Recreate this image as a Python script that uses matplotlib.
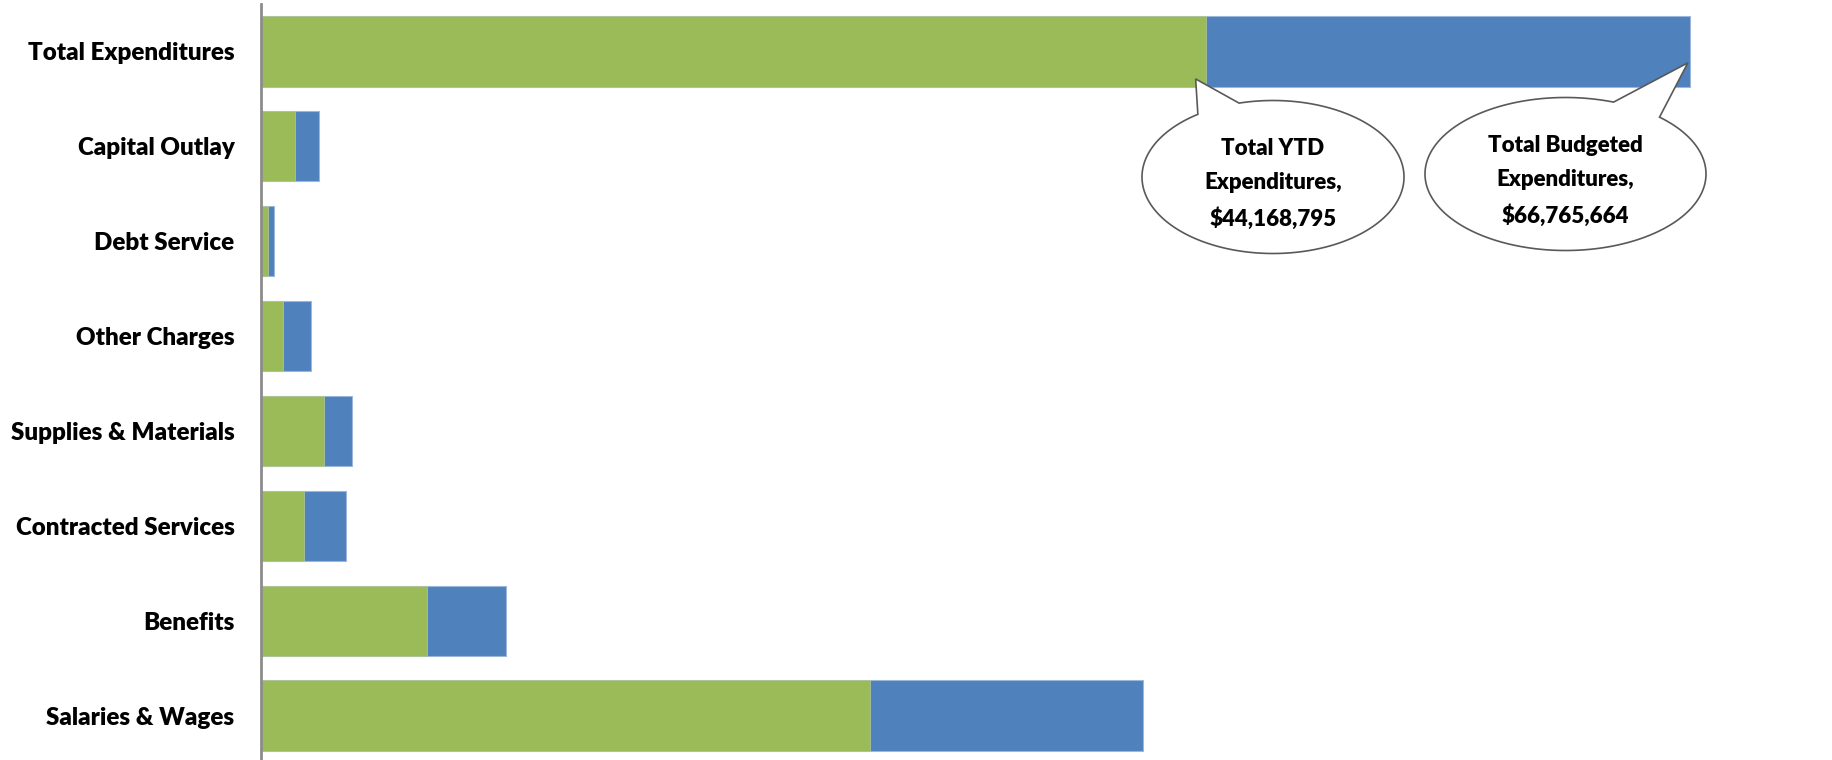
import numpy as np
import matplotlib
matplotlib.use('Agg')
import matplotlib.pyplot as plt
from matplotlib.patches import Polygon

plt.rcParams['font.family'] = ['Lato', 'DejaVu Sans']

# categories bottom to top
categories = ['Salaries & Wages', 'Benefits', 'Contracted Services',
              'Supplies & Materials', 'Other Charges', 'Debt Service',
              'Capital Outlay', 'Total Expenditures']
# dollars, millions
budgeted = [41.21, 11.45, 3.98, 4.27, 2.35, 0.61, 2.71, 66.765664]
ytd = [28.44, 7.76, 2.00, 2.93, 1.01, 0.33, 1.59, 44.168795]

ytd_label = 'Total YTD\nExpenditures,\n$44,168,795'
budget_label = 'Total Budgeted\nExpenditures,\n$66,765,664'

W, H = 1833, 760
fig = plt.figure(figsize=(W / 100.0, H / 100.0), dpi=100)
ax = fig.add_axes([261.0 / W, -3.0 / H, (W - 261.0) / W, 759.0 / H])

y = np.arange(len(categories))
ax.barh(y, budgeted, height=0.74, color='#4F81BD', edgecolor='#9DB7DA', linewidth=0.8)
ax.barh(y, ytd, height=0.74, color='#9BBB59', edgecolor='#B5C99A', linewidth=0.5)

ax.set_xlim(0, 1572 * 66.765664 / 1429.0)
ax.set_ylim(-0.5, len(categories) - 0.5)
ax.set_yticks(y)
ax.set_yticklabels(categories, fontsize=17.4, fontweight='heavy')
ax.tick_params(axis='y', length=0, pad=19)
ax.set_xticks([])
for s in ['top', 'right', 'bottom']:
    ax.spines[s].set_visible(False)
ax.spines['left'].set_color('#8C8C8C')
ax.spines['left'].set_linewidth(2)


def callout(cx, cy, a, b, t1, t2, tip, text):
    # ellipse (pixel coords, y up) with a pointed tail toward tip
    pts = []
    ts = np.linspace(t2, t1 + 360, 300)
    for t in np.radians(ts):
        pts.append((cx + a * np.cos(t), cy + b * np.sin(t)))
    pts.append(tip)
    pts = [(px / W, py / H) for px, py in pts]
    fig.add_artist(Polygon(pts, closed=True, transform=fig.transFigure,
                           facecolor='white', edgecolor='#595959', linewidth=1.2))
    fig.text(cx / W, (cy - 7) / H, text, ha='center', va='center', fontsize=16,
             fontweight='heavy', linespacing=1.75)


fig.canvas.draw()
tip1 = ax.transData.transform((ytd[-1] - 0.5, y[-1] - 0.29))
tip2 = ax.transData.transform((budgeted[-1] - 0.1, y[-1] - 0.12))
callout(1273, H - 177, 131, 76.5, 105, 125, tuple(tip1), ytd_label)
callout(1565.5, H - 174, 140.5, 76.5, 48, 70, tuple(tip2), budget_label)

plt.savefig('out.png', dpi=100)
